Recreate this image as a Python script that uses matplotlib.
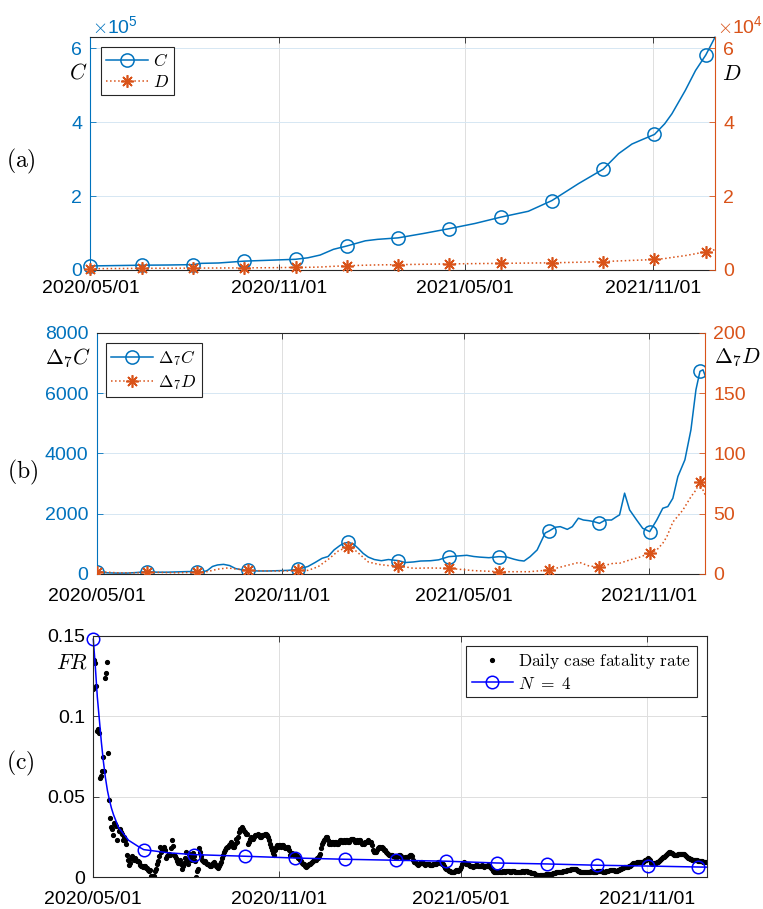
import numpy as np
import matplotlib
matplotlib.use('Agg')
import matplotlib.pyplot as plt

plt.rcParams['font.family'] = ['Liberation Sans', 'DejaVu Sans']
plt.rcParams['mathtext.fontset'] = 'cm'
plt.rcParams['font.size'] = 14

BLUE = '#0072BD'
ORANGE = '#D95319'
DARK = '#262626'
ASTERISK = (8, 2, 0)  # eight-spoke asterisk marker

# days counted from 2020/05/01
date_ticks = [0, 184, 365, 549]
date_labels = ['2020/05/01', '2020/11/01', '2021/05/01', '2021/11/01']

# (a) cumulative cases C and deaths D
days_a = [0, 25, 50, 75, 100, 108, 125, 150, 175, 200, 212, 224, 237, 250, 268, 280,
          300, 325, 350, 375, 400, 427, 450, 476, 500, 515, 528, 538, 550, 560, 567,
          580, 590, 600, 609]
cases = [11000, 12000, 13000, 13500, 14500, 18000, 19000, 24000, 26500, 29000, 33000,
         40500, 56000, 65000, 79000, 83000, 87000, 99000, 112000, 126000, 143000,
         159000, 188000, 234000, 273000, 315000, 341000, 353000, 367000, 396000,
         423000, 486000, 540000, 582000, 630000]
deaths = [350, 400, 450, 480, 500, 520, 540, 580, 620, 700, 720, 800, 1000, 1150, 1300,
          1380, 1450, 1550, 1650, 1730, 1800, 1880, 1950, 2100, 2300, 2450, 2600, 2700,
          2850, 3100, 3400, 3900, 4400, 4950, 5500]

# (b) 7-day differences
days_dc = [0, 10, 20, 30, 40, 50, 60, 70, 80, 90, 100, 105, 110, 115, 120, 126, 132, 138,
           144, 150, 160, 170, 180, 190, 200, 210, 217, 224, 230, 236, 242, 246, 250, 255,
           260, 265, 270, 276, 283, 290, 295, 300, 307, 315, 322, 332, 340, 350, 360, 368,
           375, 381, 390, 400, 408, 415, 420, 425, 431, 438, 446, 450, 456, 461, 468, 473,
           479, 484, 489, 494, 500, 506, 512, 517, 520, 525, 530, 537, 543, 550, 557, 563,
           568, 573, 578, 585, 591, 596, 600, 603, 606, 609]
delta_c = [80, 40, 30, 30, 50, 80, 60, 60, 70, 80, 80, 60, 120, 250, 300, 320, 280, 180,
           140, 122, 100, 100, 110, 120, 155, 250, 380, 520, 580, 800, 950, 1020, 1050, 1000,
           850, 680, 560, 480, 440, 480, 460, 442, 380, 400, 430, 440, 470, 575, 600, 620,
           580, 560, 540, 575, 560, 490, 450, 430, 575, 797, 1360, 1427, 1550, 1570, 1480,
           1570, 1850, 1790, 1770, 1740, 1680, 1790, 1790, 1900, 1960, 2680, 2125, 1790,
           1515, 1405, 1790, 2180, 2235, 2510, 3230, 3785, 4780, 6110, 6720, 6770, 6500,
           6385]
days_dd = [0, 20, 40, 50, 80, 100, 110, 120, 130, 140, 150, 170, 190, 200, 210, 220, 230,
           240, 250, 255, 262, 270, 280, 290, 300, 315, 330, 350, 375, 400, 430, 450, 463,
           480, 490, 500, 514, 520, 530, 540, 550, 557, 563, 567, 573, 583, 591, 596, 600,
           603, 606, 609]
delta_d = [2, 1, 1, 1.5, 1, 1.5, 2, 4, 5, 4, 3, 2.5, 2.5, 3, 3, 6, 12, 19, 22.7, 21, 16,
           10, 8, 7, 6.9, 4.7, 5, 4.7, 2.8, 1.9, 1.9, 3.3, 6.1, 9.7, 6.5, 6.1, 8.9, 8.9,
           11.6, 14, 17.2, 19.9, 25.5, 30.9, 43, 53, 64, 69.6, 76.6, 69.6, 64, 62.7]

# (c) daily case fatality rate, one value per day from day 0 to day 609
fr_daily = [
    0.117, 0.135, 0.133, 0.119, 0.091, 0.092, 0.090, 0.062, 0.063, 0.066,
    0.075, 0.066, 0.124, 0.127, 0.134, 0.077, 0.048, 0.037, 0.031, 0.030,
    0.026, 0.034, 0.033, 0.032, 0.023, 0.029, 0.030, 0.028, 0.027, 0.023,
    0.025, 0.023, 0.021, 0.014, 0.011, 0.0075, 0.009, 0.012, 0.013, 0.012,
    0.011, 0.012, 0.011, 0.010, 0.010, 0.0095, 0.0075, 0.007, 0.007, 0.0065,
    0.007, 0.0068, 0.006, 0.0055, 0.0045, 0.004, 0.0045, 0.0006, 0.001, 0.0006,
    0.0005, 0.004, 0.005, 0.008, 0.010, 0.013, 0.019, 0.016, 0.017, 0.018,
    0.0186, 0.017, 0.012, 0.013, 0.014, 0.0145, 0.014, 0.018, 0.023, 0.0195,
    0.0137, 0.013, 0.012, 0.010, 0.009, 0.0095, 0.011, 0.008, 0.005, 0.007,
    0.009, 0.012, 0.0155, 0.011, 0.008, 0.0145, 0.013, 0.011, 0.013, 0.015,
    0.013, 0.010, 0.0003, 0.004, 0.005, 0.018, 0.016, 0.013, 0.011, 0.010,
    0.0095, 0.010, 0.009, 0.008, 0.008, 0.0075, 0.007, 0.007, 0.0085, 0.009,
    0.0095, 0.008, 0.007, 0.0065, 0.006, 0.007, 0.008, 0.0095, 0.012, 0.014,
    0.0155, 0.017, 0.018, 0.019, 0.019, 0.020, 0.021, 0.022, 0.020, 0.019,
    0.019, 0.021, 0.0236, 0.022, 0.025, 0.028, 0.030, 0.031, 0.030, 0.029,
    0.028, 0.027, 0.027, 0.021, 0.022, 0.024, 0.025, 0.024, 0.024, 0.025,
    0.026, 0.026, 0.026, 0.027, 0.026, 0.025, 0.025, 0.026, 0.026, 0.026,
    0.027, 0.027, 0.026, 0.025, 0.023, 0.021, 0.019, 0.017, 0.015, 0.0137,
    0.017, 0.019, 0.020, 0.019, 0.020, 0.020, 0.019, 0.020, 0.020, 0.019,
    0.018, 0.018, 0.019, 0.019, 0.017, 0.014, 0.0145, 0.015, 0.0145, 0.014,
    0.0137, 0.014, 0.013, 0.012, 0.012, 0.011, 0.010, 0.009, 0.0085, 0.008,
    0.007, 0.0065, 0.007, 0.0075, 0.008, 0.0085, 0.009, 0.0095, 0.010, 0.0105,
    0.011, 0.011, 0.012, 0.012, 0.013, 0.0147, 0.018, 0.021, 0.022, 0.023,
    0.024, 0.025, 0.025, 0.023, 0.021, 0.022, 0.021, 0.022, 0.022, 0.021,
    0.022, 0.022, 0.021, 0.021, 0.022, 0.023, 0.023, 0.022, 0.022, 0.023,
    0.022, 0.023, 0.023, 0.022, 0.022, 0.023, 0.024, 0.024, 0.024, 0.023,
    0.022, 0.022, 0.023, 0.022, 0.023, 0.023, 0.022, 0.021, 0.021, 0.022,
    0.022, 0.022, 0.023, 0.022, 0.022, 0.022, 0.020, 0.017, 0.016, 0.016,
    0.016, 0.017, 0.018, 0.019, 0.019, 0.018, 0.019, 0.018, 0.017, 0.017,
    0.016, 0.015, 0.0147, 0.014, 0.014, 0.0137, 0.0137, 0.013, 0.013, 0.0127,
    0.0127, 0.0127, 0.013, 0.0137, 0.0137, 0.013, 0.012, 0.012, 0.012, 0.0125,
    0.0127, 0.0127, 0.0127, 0.013, 0.0137, 0.0137, 0.013, 0.011, 0.0096, 0.0096,
    0.009, 0.008, 0.0075, 0.008, 0.009, 0.0096, 0.0096, 0.009, 0.008, 0.0075,
    0.008, 0.0085, 0.0085, 0.008, 0.0075, 0.0075, 0.0075, 0.008, 0.0085, 0.0085,
    0.0085, 0.009, 0.0095, 0.0095, 0.009, 0.009, 0.0085, 0.008, 0.007, 0.006,
    0.0054, 0.005, 0.0045, 0.004, 0.0037, 0.0035, 0.0033, 0.0033, 0.0035, 0.004,
    0.0044, 0.0044, 0.004, 0.0044, 0.005, 0.0065, 0.0085, 0.009, 0.0096, 0.009,
    0.0085, 0.0081, 0.008, 0.0075, 0.007, 0.007, 0.0068, 0.0065, 0.0068, 0.007,
    0.0075, 0.0075, 0.007, 0.0068, 0.007, 0.0072, 0.0075, 0.007, 0.0065, 0.0068,
    0.0072, 0.0075, 0.007, 0.0065, 0.006, 0.005, 0.0042, 0.0035, 0.0033, 0.0035,
    0.0033, 0.0036, 0.0038, 0.0035, 0.0033, 0.0036, 0.004, 0.0038, 0.0035, 0.0037,
    0.004, 0.0042, 0.0038, 0.0036, 0.0035, 0.0038, 0.004, 0.0037, 0.0035, 0.0033,
    0.0034, 0.0036, 0.0035, 0.0033, 0.0035, 0.0038, 0.0037, 0.0036, 0.0038, 0.004,
    0.0038, 0.0035, 0.0033, 0.003, 0.0028, 0.0027, 0.0027, 0.0025, 0.002, 0.0015,
    0.0012, 0.0012, 0.0011, 0.0012, 0.0013, 0.0012, 0.0014, 0.0015, 0.0016, 0.0018,
    0.0019, 0.002, 0.0021, 0.0022, 0.0023, 0.0023, 0.0024, 0.0025, 0.0027, 0.003,
    0.0031, 0.0033, 0.0035, 0.0034, 0.0033, 0.0035, 0.0038, 0.004, 0.004, 0.0042,
    0.0044, 0.0046, 0.0045, 0.0048, 0.005, 0.0052, 0.0054, 0.0052, 0.0054, 0.005,
    0.0046, 0.0042, 0.0038, 0.0035, 0.0034, 0.0033, 0.0035, 0.0034, 0.0033, 0.0035,
    0.0036, 0.0034, 0.0033, 0.0035, 0.0037, 0.0038, 0.0036, 0.0035, 0.0033, 0.0035,
    0.0037, 0.0038, 0.004, 0.0041, 0.004, 0.0038, 0.0036, 0.0035, 0.0036, 0.0038,
    0.004, 0.0042, 0.0044, 0.0046, 0.0048, 0.0046, 0.0044, 0.0042, 0.004, 0.0042,
    0.0045, 0.0048, 0.005, 0.0053, 0.0056, 0.006, 0.0062, 0.0064, 0.0065, 0.0065,
    0.0066, 0.0068, 0.0072, 0.0078, 0.0083, 0.0086, 0.0088, 0.009, 0.0092, 0.0094,
    0.0096, 0.0095, 0.0096, 0.0098, 0.0096, 0.0098, 0.0102, 0.0106, 0.011, 0.0116,
    0.012, 0.0116, 0.0105, 0.0092, 0.0085, 0.0086, 0.0088, 0.009, 0.0092, 0.0094,
    0.0098, 0.0104, 0.011, 0.0116, 0.012, 0.0124, 0.0127, 0.013, 0.0138, 0.0146,
    0.0152, 0.0157, 0.0155, 0.0154, 0.015, 0.0145, 0.014, 0.0137, 0.0138, 0.014,
    0.0143, 0.0147, 0.0145, 0.0143, 0.0145, 0.0147, 0.0142, 0.0136, 0.013, 0.0127,
    0.0122, 0.0118, 0.0116, 0.0112, 0.011, 0.0108, 0.0106, 0.0106, 0.0105, 0.0106,
    0.0104, 0.0102, 0.0100, 0.0101, 0.0099, 0.0098, 0.0097, 0.0096, 0.0097, 0.0096,
]
days_fr = np.arange(len(fr_daily))

# fitted curve, N = 4
fit_days = [0, 2, 4, 6, 8, 10, 12, 14, 16, 18, 20, 25, 30, 35, 40, 45, 50, 75, 100, 150,
            200, 250, 300, 350, 400, 450, 500, 550, 600, 609]
fit_vals = [0.148, 0.131, 0.112, 0.098, 0.084, 0.072, 0.062, 0.054, 0.048, 0.043, 0.039,
            0.031, 0.027, 0.023, 0.021, 0.019, 0.0172, 0.0152, 0.0141, 0.0131, 0.0120,
            0.0112, 0.0106, 0.0100, 0.0089, 0.0083, 0.0075, 0.0070, 0.0064, 0.0063]

W, H = 763, 909
fig = plt.figure(figsize=(W / 100, H / 100), dpi=100)


def px_axes(left, top, right, bottom):
    return fig.add_axes([left / W, 1 - bottom / H, (right - left) / W, (bottom - top) / H])


def every50(days):
    return [d % 50 == 0 for d in days]


def style_dates(ax, xmax, pad):
    ax.set_xlim(0, xmax)
    ax.set_xticks(date_ticks)
    ax.set_xticklabels(date_labels)
    ax.tick_params(axis='x', direction='in', length=4, width=0.6, top=True,
                   color=DARK, labelcolor='black', pad=pad)
    ax.xaxis.grid(True, color='#dedede', lw=0.7)
    ax.set_axisbelow(True)
    for s in ['top', 'bottom']:
        ax.spines[s].set_color(DARK)
        ax.spines[s].set_linewidth(0.8)


def style_twin(ax, axr, xmax, pad):
    style_dates(ax, xmax, pad)
    ax.tick_params(axis='y', direction='in', length=4, width=0.6, colors=BLUE, pad=6)
    axr.tick_params(axis='y', direction='in', length=4, width=0.6, colors=ORANGE, pad=6)
    ax.yaxis.grid(True, color='#d6e7f3', lw=0.7)
    ax.spines['left'].set_color(BLUE)
    ax.spines['right'].set_visible(False)
    axr.spines['right'].set_color(ORANGE)
    for s in ['left', 'top', 'bottom']:
        axr.spines[s].set_visible(False)


def add_legend(ax, handles, loc, anchor):
    leg = ax.legend(handles=handles, loc=loc, bbox_to_anchor=anchor, borderaxespad=0,
                    fancybox=False, edgecolor=DARK, framealpha=1, fontsize=12.5,
                    handlelength=2.4, handletextpad=0.3, borderpad=0.3, labelspacing=0.25)
    leg.get_frame().set_linewidth(0.8)
    return leg


def fig_text(x, y, s, **kw):
    fig.text(x / W, 1 - y / H, s, ha='center', va='center', **kw)


# ---- (a) ----
ax1 = px_axes(90.4, 37.3, 715, 270)
ax1r = ax1.twinx()
l1, = ax1.plot(days_a, cases, color=BLUE, lw=1.1, marker='o', ms=9.5, mfc='none',
               mew=1.1, markevery=every50(days_a), label='$C$', clip_on=False)
l2, = ax1r.plot(days_a, deaths, color=ORANGE, lw=1.1, ls=':', marker=ASTERISK, ms=9,
                mew=1.2, markevery=every50(days_a), label='$D$', clip_on=False)
ax1.set_ylim(0, 6.3e5)
ax1r.set_ylim(0, 6.3e4)
ax1.set_yticks([0, 2e5, 4e5, 6e5])
ax1.set_yticklabels(['0', '2', '4', '6'])
ax1r.set_yticks([0, 2e4, 4e4, 6e4])
ax1r.set_yticklabels(['0', '2', '4', '6'])
style_twin(ax1, ax1r, 609, 7)
add_legend(ax1r, [l1, l2], 'upper left', (0.017, 0.958))
fig.text(92 / W, 1 - 33 / H, r'$\times\mathdefault{10^{5}}$', color=BLUE, fontsize=14,
         ha='left', va='baseline')
fig.text(717 / W, 1 - 33 / H, r'$\times\mathdefault{10^{4}}$', color=ORANGE, fontsize=14,
         ha='left', va='baseline')
fig_text(78, 73, '$C$', fontsize=15.5)
fig_text(732, 74, '$D$', fontsize=15.5)
fig_text(21, 161, r'$\mathrm{(a)}$', fontsize=17)

# ---- (b) ----
ax2 = px_axes(96.9, 332.7, 705, 574)
ax2r = ax2.twinx()
l3, = ax2.plot(days_dc, delta_c, color=BLUE, lw=1.1, marker='o', ms=9.5, mfc='none',
               mew=1.1, markevery=every50(days_dc), label=r'$\Delta_7C$')
l4, = ax2r.plot(days_dd, delta_d, color=ORANGE, lw=1.1, ls=':', marker=ASTERISK, ms=9,
                mew=1.2, markevery=every50(days_dd), label=r'$\Delta_7D$')
ax2.set_ylim(0, 8000)
ax2r.set_ylim(0, 200)
ax2.set_yticks([0, 2000, 4000, 6000, 8000])
ax2r.set_yticks([0, 50, 100, 150, 200])
style_twin(ax2, ax2r, 605, 10)
add_legend(ax2r, [l3, l4], 'upper left', (0.015, 0.957))
fig_text(68.5, 358, r'$\Delta_7C$', fontsize=15.5)
fig_text(737.5, 358, r'$\Delta_7D$', fontsize=15.5)
fig_text(22.5, 472, r'$\mathrm{(b)}$', fontsize=17)

# ---- (c) ----
ax3 = px_axes(93.3, 636, 707.3, 877.3)
l5, = ax3.plot(days_fr, fr_daily, ls='none', marker='.', ms=5.5, color='black',
               label=r'$\mathrm{Daily\ case\ fatality\ rate}$')
l6, = ax3.plot(fit_days, fit_vals, color='blue', lw=1.1, marker='o', ms=9, mfc='none',
               mew=1.1, markevery=every50(fit_days), label=r'$N\ =\ 4$', clip_on=False)
ax3.set_ylim(0, 0.15)
ax3.set_yticks([0, 0.05, 0.1, 0.15])
ax3.set_yticklabels(['0', '0.05', '0.1', '0.15'])
style_dates(ax3, 609, 10)
ax3.tick_params(axis='y', direction='in', length=4, width=0.6, right=True,
                color=DARK, labelcolor='black', pad=6)
ax3.yaxis.grid(True, color='#dedede', lw=0.7)
for s in ['left', 'right']:
    ax3.spines[s].set_color(DARK)
    ax3.spines[s].set_linewidth(0.8)
add_legend(ax3, [l5, l6], 'upper right', (0.983, 0.9586))
fig_text(72.5, 663, '$FR$', fontsize=15.5)
fig_text(20.5, 763, r'$\mathrm{(c)}$', fontsize=17)

fig.savefig('out.png', dpi=100)
